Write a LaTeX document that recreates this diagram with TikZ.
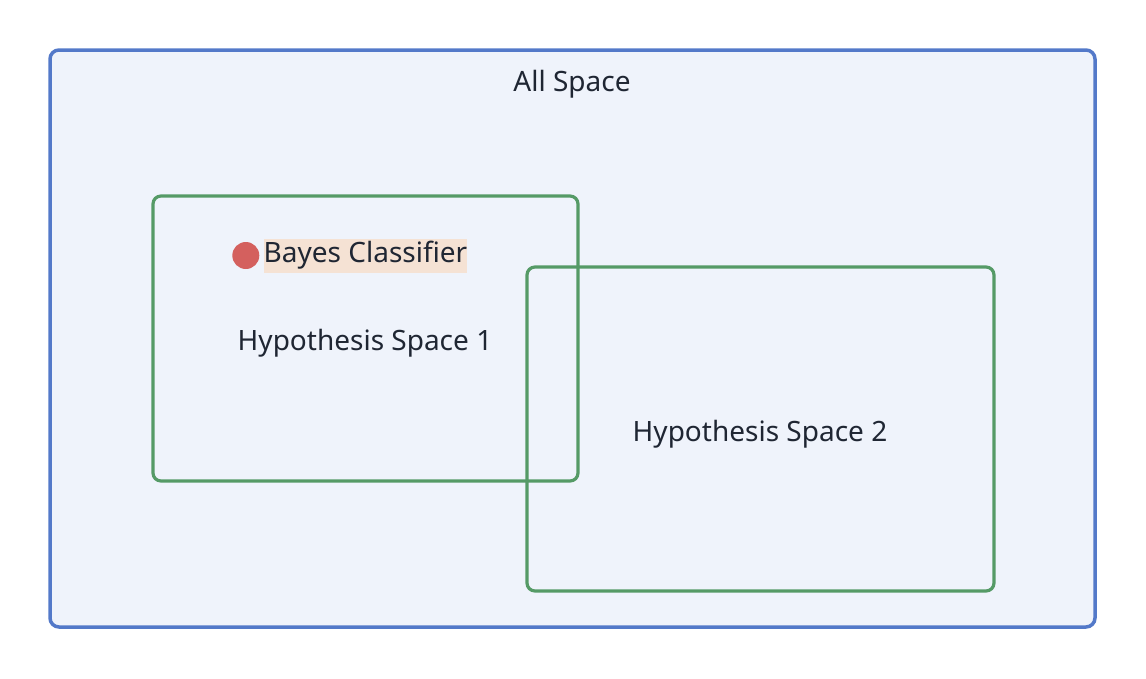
\documentclass[tikz,border=0pt]{standalone}
\usepackage{fontspec}
\setmainfont{Noto Sans}
\usetikzlibrary{positioning}
\definecolor{spaceblue}{HTML}{5379C9}
\definecolor{spacefill}{HTML}{EFF3FB}
\definecolor{hypgreen}{HTML}{559A66}
\definecolor{dotred}{HTML}{D4605E}
\definecolor{hilite}{HTML}{F5E2D4}
\definecolor{ink}{HTML}{1F2633}

\begin{document}
\begin{tikzpicture}[x=1pt, y=-1pt,
    space/.style={draw=spaceblue, line width=3.5pt, fill=spacefill, rounded corners=9pt, inner sep=0pt},
    hyp/.style={draw=hypgreen, line width=3.2pt, rounded corners=8pt, inner sep=0pt},
    lbl/.style={font=\fontsize{28}{33}\selectfont, text=ink, inner sep=0pt},
    dot/.style={circle, fill=dotred, minimum size=27pt, inner sep=0pt}
]
\useasboundingbox (0,0) rectangle (1146,678);
\node[space, minimum width=1045pt, minimum height=577pt] (all) at (572.5,338.5) {};
\node[hyp, minimum width=425pt, minimum height=285pt] (h1) at (365.5,338.5) {};
\node[hyp, minimum width=467pt, minimum height=324pt] (h2) at (760.5,429) {};

\node[lbl] (allT) at (572,84) {All Space};
\node[lbl] (h1T) at (365,343) {Hypothesis Space 1};
\node[lbl] (h2T) at (760,434) {Hypothesis Space 2};
\node[lbl, fill=hilite, minimum height=34pt, inner xsep=0pt] (bayes) at (365.5,255.5) {Bayes Classifier};
\node[dot, left=4pt of bayes] (bdot) {};
\end{tikzpicture}
\end{document}
